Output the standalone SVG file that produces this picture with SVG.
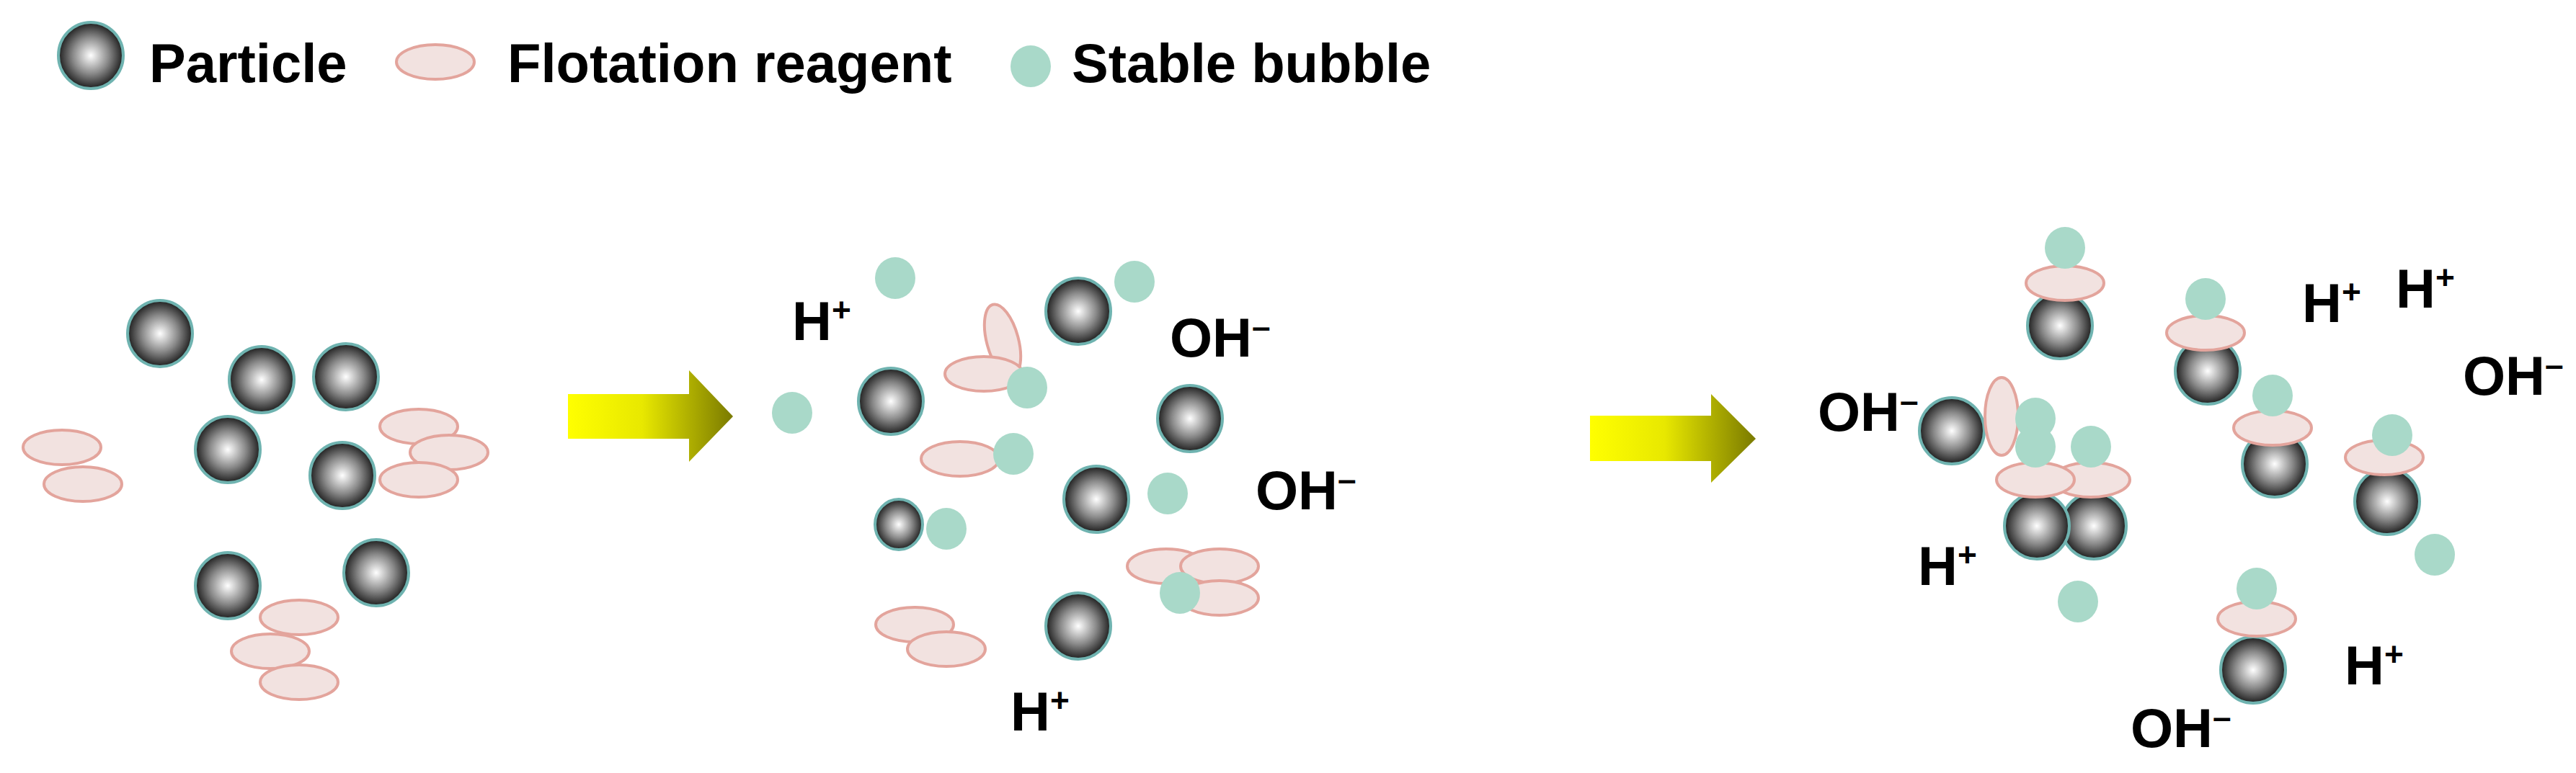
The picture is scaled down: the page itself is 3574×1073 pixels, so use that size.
<svg xmlns="http://www.w3.org/2000/svg" width="3574" height="1073" viewBox="0 0 3574 1073">
<defs>
<radialGradient id="pg" cx="0.5" cy="0.5" r="0.5"><stop offset="0" stop-color="#ffffff"/><stop offset="0.55" stop-color="#8a8a8a"/><stop offset="1" stop-color="#1e1e1e"/></radialGradient>
<linearGradient id="ag" x1="0" y1="0" x2="1" y2="0"><stop offset="0" stop-color="#ffff00"/><stop offset="0.45" stop-color="#e8e800"/><stop offset="1" stop-color="#7a7a00"/></linearGradient>
<style>
.p{fill:url(#pg);stroke:#6fb3b0;stroke-width:4}
.r{fill:#f2e2e0;stroke:#e3a49c;stroke-width:4}
.b{fill:#a9d9c9}
.t{font-family:"Liberation Sans",Arial,sans-serif;font-weight:bold;font-size:76px;fill:#000}
.s{font-size:46px}
</style>
</defs>
<g id="legend">
<ellipse class="p" cx="126" cy="77" rx="45" ry="46"/>
<text class="t" x="207" y="114">Particle</text>
<ellipse class="r" cx="604" cy="86" rx="54" ry="24"/>
<text class="t" x="704" y="114">Flotation reagent</text>
<ellipse class="b" cx="1430" cy="92" rx="28" ry="29"/>
<text class="t" x="1487" y="114">Stable bubble</text>
</g>
<g id="stage1">
<ellipse class="r" cx="86" cy="621" rx="54" ry="24"/>
<ellipse class="r" cx="115" cy="672" rx="54" ry="24"/>
<ellipse class="r" cx="581" cy="592" rx="54" ry="24"/>
<ellipse class="r" cx="623" cy="628" rx="54" ry="24"/>
<ellipse class="r" cx="581" cy="666" rx="54" ry="24"/>
<ellipse class="r" cx="415" cy="857" rx="54" ry="24"/>
<ellipse class="r" cx="375" cy="904" rx="54" ry="24"/>
<ellipse class="r" cx="415" cy="947" rx="54" ry="24"/>
<ellipse class="p" cx="222" cy="463" rx="45" ry="46"/>
<ellipse class="p" cx="363" cy="527" rx="45" ry="46"/>
<ellipse class="p" cx="480" cy="523" rx="45" ry="46"/>
<ellipse class="p" cx="316" cy="624" rx="45" ry="46"/>
<ellipse class="p" cx="475" cy="660" rx="45" ry="46"/>
<ellipse class="p" cx="316" cy="813" rx="45" ry="46"/>
<ellipse class="p" cx="522" cy="795" rx="45" ry="46"/>
</g>
<g id="arrows">
<polygon points="788,547 956,547 956,514 1017,578 956,641 956,609 788,609" fill="url(#ag)"/>
<polygon points="2206,577 2374,577 2374,547 2436,609 2374,670 2374,640 2206,640" fill="url(#ag)"/>
</g>
<g id="stage2">
<ellipse class="r" cx="1391" cy="473" rx="22" ry="52" transform="rotate(-15 1391 473)"/>
<ellipse class="r" cx="1365" cy="519" rx="54" ry="24"/>
<ellipse class="r" cx="1332" cy="637" rx="54" ry="24"/>
<ellipse class="r" cx="1618" cy="786" rx="54" ry="24"/>
<ellipse class="r" cx="1692" cy="786" rx="54" ry="24"/>
<ellipse class="r" cx="1692" cy="830" rx="54" ry="24"/>
<ellipse class="r" cx="1269" cy="867" rx="54" ry="24"/>
<ellipse class="r" cx="1313" cy="901" rx="54" ry="24"/>
<ellipse class="b" cx="1099" cy="573" rx="28" ry="29"/>
<ellipse class="b" cx="1242" cy="386" rx="28" ry="29"/>
<ellipse class="b" cx="1574" cy="391" rx="28" ry="29"/>
<ellipse class="b" cx="1425" cy="538" rx="28" ry="29"/>
<ellipse class="b" cx="1406" cy="630" rx="28" ry="29"/>
<ellipse class="b" cx="1313" cy="734" rx="28" ry="29"/>
<ellipse class="b" cx="1620" cy="685" rx="28" ry="29"/>
<ellipse class="b" cx="1637" cy="823" rx="28" ry="29"/>
<ellipse class="p" cx="1496" cy="432" rx="45" ry="46"/>
<ellipse class="p" cx="1236" cy="557" rx="45" ry="46"/>
<ellipse class="p" cx="1651" cy="581" rx="45" ry="46"/>
<ellipse class="p" cx="1521" cy="693" rx="45" ry="46"/>
<ellipse class="p" cx="1247" cy="728" rx="33" ry="35"/>
<ellipse class="p" cx="1496" cy="869" rx="45" ry="46"/>
<text class="t" x="1099" y="472">H<tspan class="s" dy="-26">+</tspan></text>
<text class="t" x="1623" y="495">OH<tspan class="s" dy="-26">–</tspan></text>
<text class="t" x="1742" y="707">OH<tspan class="s" dy="-26">–</tspan></text>
<text class="t" x="1402" y="1014">H<tspan class="s" dy="-26">+</tspan></text>
</g>
<g id="stage3">
<ellipse class="p" cx="2858" cy="452" rx="45" ry="46"/>
<ellipse class="r" cx="2865" cy="393" rx="54" ry="24"/>
<ellipse class="b" cx="2865" cy="344" rx="28" ry="29"/>
<ellipse class="p" cx="3063" cy="515" rx="45" ry="46"/>
<ellipse class="r" cx="3060" cy="462" rx="54" ry="24"/>
<ellipse class="b" cx="3060" cy="415" rx="28" ry="29"/>
<ellipse class="p" cx="3156" cy="644" rx="45" ry="46"/>
<ellipse class="r" cx="3153" cy="594" rx="54" ry="24"/>
<ellipse class="b" cx="3153" cy="549" rx="28" ry="29"/>
<ellipse class="p" cx="3312" cy="696" rx="45" ry="46"/>
<ellipse class="r" cx="3308" cy="635" rx="54" ry="24"/>
<ellipse class="b" cx="3319" cy="604" rx="28" ry="29"/>
<ellipse class="p" cx="2905" cy="730" rx="45" ry="46"/>
<ellipse class="r" cx="2901" cy="666" rx="54" ry="24"/>
<ellipse class="b" cx="2901" cy="620" rx="28" ry="29"/>
<ellipse class="p" cx="2708" cy="598" rx="45" ry="46"/>
<ellipse class="r" cx="2777" cy="578" rx="23" ry="54"/>
<ellipse class="p" cx="2826" cy="730" rx="45" ry="46"/>
<ellipse class="r" cx="2824" cy="666" rx="54" ry="24"/>
<ellipse class="b" cx="2824" cy="581" rx="28" ry="29"/>
<ellipse class="b" cx="2824" cy="620" rx="28" ry="29"/>
<ellipse class="p" cx="3126" cy="930" rx="45" ry="46"/>
<ellipse class="r" cx="3131" cy="859" rx="54" ry="24"/>
<ellipse class="b" cx="3131" cy="817" rx="28" ry="29"/>
<ellipse class="b" cx="2883" cy="835" rx="28" ry="29"/>
<ellipse class="b" cx="3378" cy="770" rx="28" ry="29"/>
<text class="t" x="2522" y="598">OH<tspan class="s" dy="-26">–</tspan></text>
<text class="t" x="3194" y="447">H<tspan class="s" dy="-26">+</tspan></text>
<text class="t" x="3324" y="427">H<tspan class="s" dy="-26">+</tspan></text>
<text class="t" x="3417" y="548">OH<tspan class="s" dy="-26">–</tspan></text>
<text class="t" x="2661" y="812">H<tspan class="s" dy="-26">+</tspan></text>
<text class="t" x="3253" y="950">H<tspan class="s" dy="-26">+</tspan></text>
<text class="t" x="2956" y="1037">OH<tspan class="s" dy="-26">–</tspan></text>
</g>
<g id="connectors"/>
</svg>
